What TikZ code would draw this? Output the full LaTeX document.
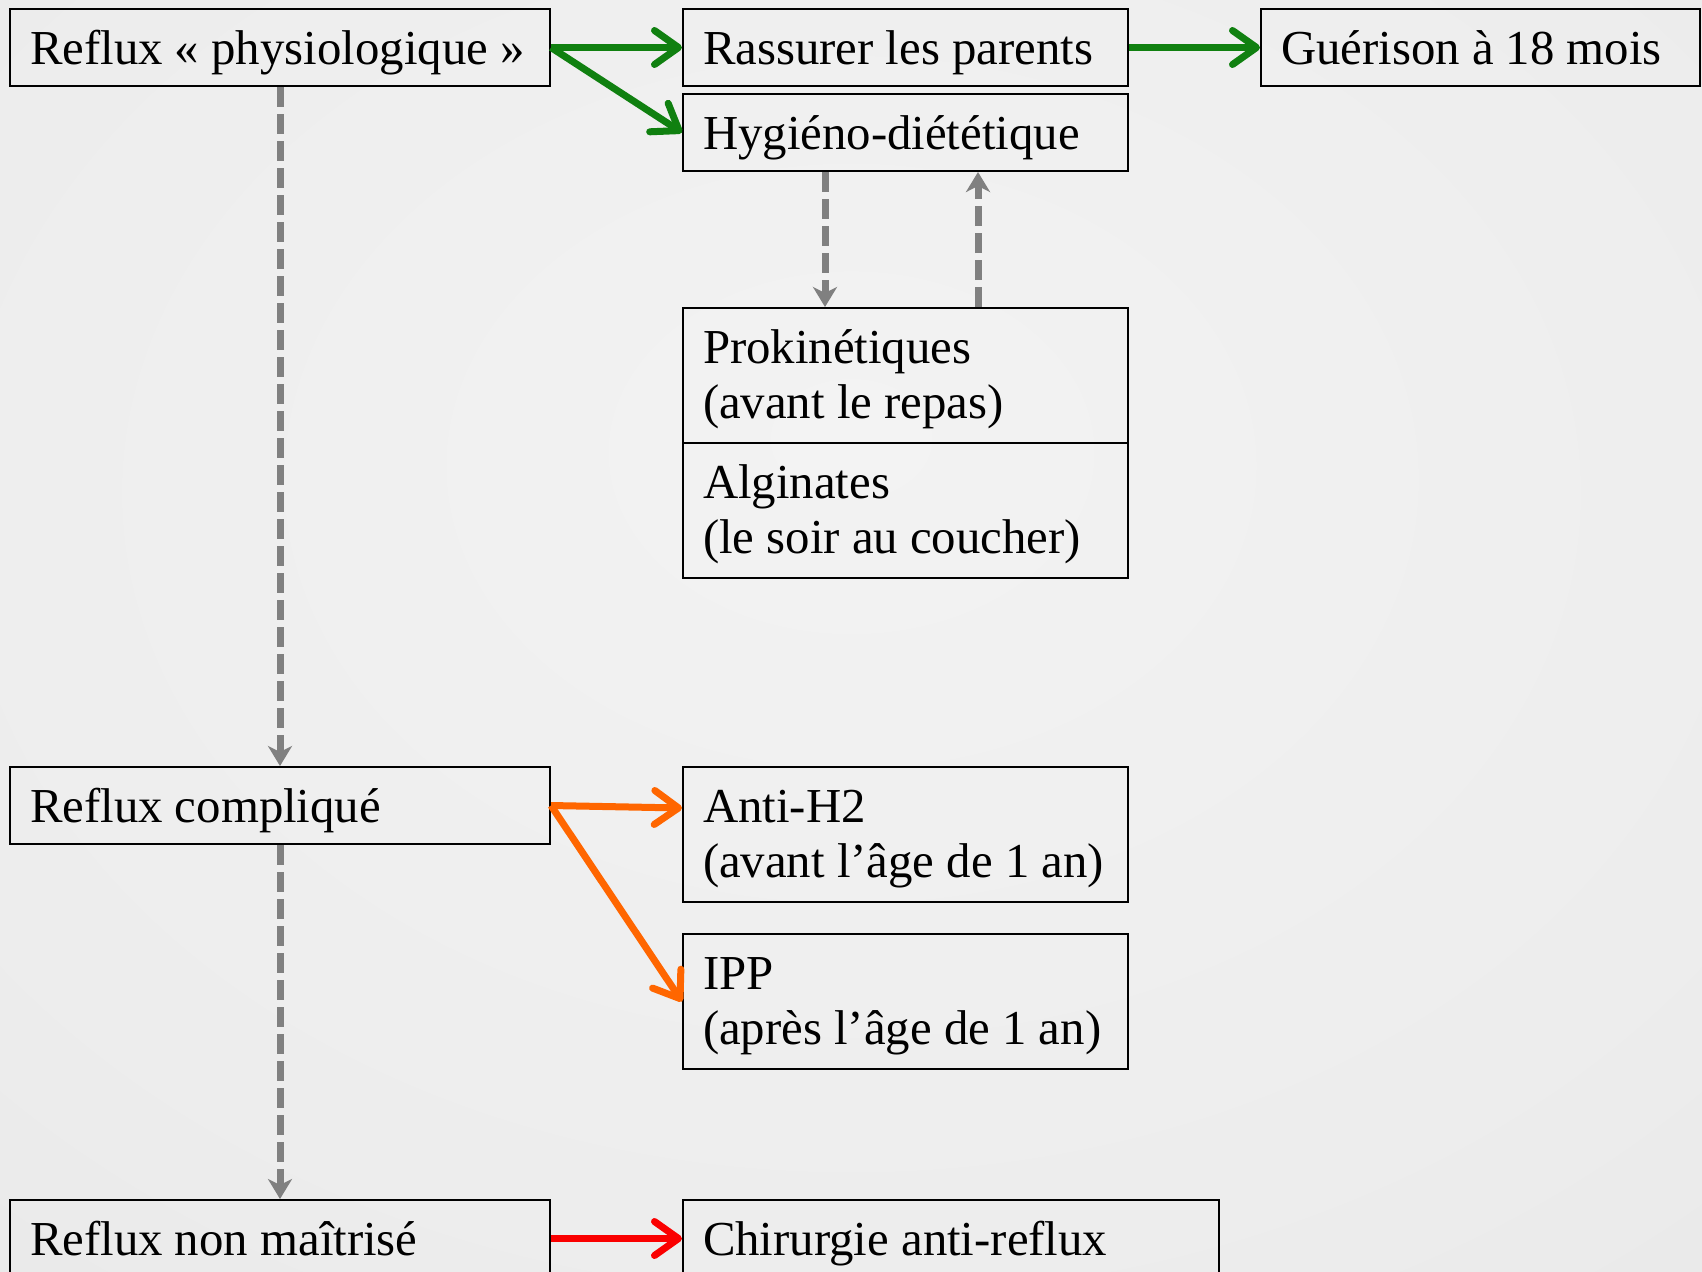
\documentclass[tikz,border=0pt]{standalone}
\usepackage{fontspec}
\setmainfont{Liberation Serif}
\usepackage{tikz}
\usetikzlibrary{arrows.meta}
\usetikzlibrary{positioning}
\definecolor{okgreen}{RGB}{16,128,16}
\definecolor{warnorange}{RGB}{255,102,0}
\definecolor{alertred}{RGB}{250,0,0}
\definecolor{dashgray}{RGB}{128,128,128}
\definecolor{bgin}{RGB}{243,243,243}
\definecolor{bgout}{RGB}{222,222,222}
\pgfdeclareradialshading{backdrop}{\pgfpoint{0bp}{8bp}}{color(0bp)=(bgin); color(30bp)=(bgin!70!bgout); color(72bp)=(bgout)}
\tikzstyle{block} = [rectangle, draw, line width=1pt, align=flush left,
    inner xsep=0pt, inner ysep=0pt, text height=27.5pt, text depth=11pt,
    execute at begin node={\leftskip=10pt\relax},
    font=\fontsize{24.4}{27.5}\selectfont]
\tikzstyle{widebox} = [block, text width=270pt]
\tikzstyle{midbox} = [block, text width=222.5pt]
\tikzstyle{twoline} = [text depth=40pt]
\tikzstyle{arrow} = [line width=3.5pt, -{Straight Barb[length=12pt,width=17pt,round]}]
\tikzstyle{dasharrow} = [line width=3.5pt, dashgray, dash pattern=on 10pt off 3.5pt,
    -{Stealth[length=10pt,width=12pt,inset=3pt]}]

\begin{document}
\begin{tikzpicture}
    % Background
    \path[shading=backdrop] (0,0) rectangle (851pt,-635.5pt);
    \useasboundingbox (0,0) rectangle (851pt,-635.5pt);

    % Place nodes
    \node [widebox, anchor=north west] (phys) at (4.5pt,-4pt) {Reflux « physiologique »};
    \node [midbox, right=65.5pt of phys] (rassurer) {Rassurer les parents};
    \node [block, text width=219.5pt, right=65.5pt of rassurer] (guerison) {Guérison à 18 mois};
    \node [midbox, below=3pt of rassurer] (hygieno) {Hygiéno-diététique};
    \node [midbox, twoline, below=67.5pt of hygieno] (proki) {Prokinétiques\\(avant le repas)};
    \node [midbox, twoline, below=-1pt of proki] (algin) {Alginates\\(le soir au coucher)};
    \node [widebox, below=339.5pt of phys] (compl) {Reflux compliqué};
    \node [midbox, twoline, anchor=north west] (antih2) at (rassurer.west |- compl.north) {Anti-H2\\(avant l’âge de 1 an)};
    \node [midbox, twoline, below=15pt of antih2] (ipp) {IPP\\(après l’âge de 1 an)};
    \node [widebox, below=177pt of compl] (nonmaitrise) {Reflux non maîtrisé};
    \node [block, text width=268pt, anchor=north west] (chir) at (antih2.west |- nonmaitrise.north) {Chirurgie anti-reflux};

    % Draw edges
    \draw [arrow, okgreen] (phys.east) -- (rassurer.west);
    \draw [arrow, okgreen] (phys.east) -- (hygieno.west);
    \draw [arrow, okgreen] (rassurer) -- (guerison);
    \draw [dasharrow] (phys) -- (compl);
    \draw [dasharrow] ([xshift=71.5pt]hygieno.south west) -- ([xshift=71.5pt]proki.north west);
    \draw [dasharrow] ([xshift=148pt]proki.north west) -- ([xshift=148pt]hygieno.south west);
    \draw [arrow, warnorange] (compl.east) -- ([yshift=-21pt]antih2.north west);
    \draw [arrow, warnorange] (compl.east) -- (ipp.west);
    \draw [dasharrow] (compl) -- (nonmaitrise);
    \draw [arrow, alertred] (nonmaitrise) -- (chir);
\end{tikzpicture}
\end{document}
